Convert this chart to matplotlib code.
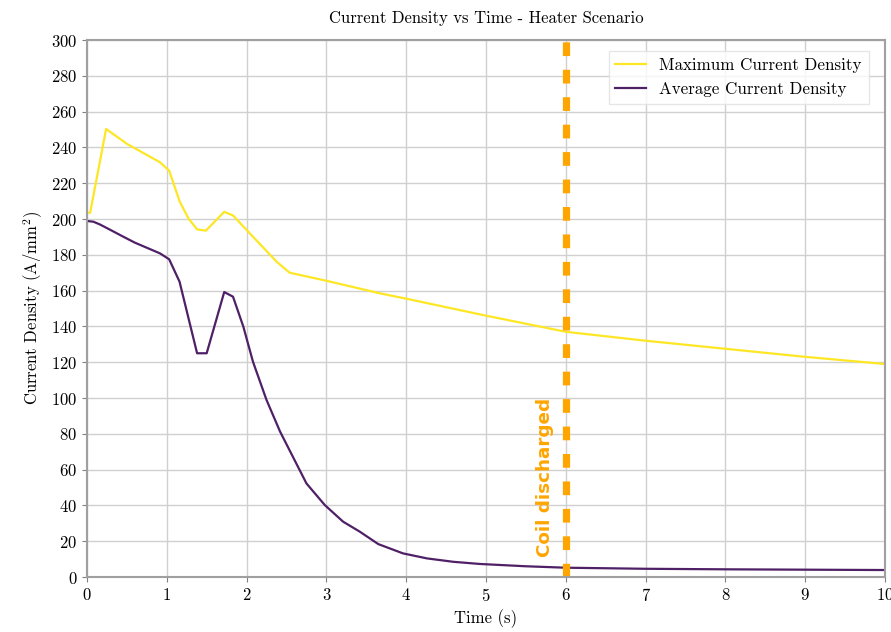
import matplotlib
matplotlib.use("Agg")
import matplotlib.pyplot as plt

plt.rcParams['font.family'] = 'serif'
plt.rcParams['font.serif'] = ['cmr10']
plt.rcParams['mathtext.fontset'] = 'cm'
plt.rcParams['axes.unicode_minus'] = False
plt.rcParams['axes.formatter.use_mathtext'] = True

# maximum current density
t_max = [0.0, 0.04, 0.24, 0.5, 0.915, 1.03, 1.16, 1.27, 1.38, 1.49, 1.72, 1.83,
         2.04, 2.38, 2.54, 3.0, 3.67, 4.0, 5.0, 6.0, 7.0, 8.0, 9.0, 10.0]
j_max = [203.5, 203.5, 250.3, 242.0, 231.7, 227.0, 210.0, 200.4, 194.2, 193.5, 204.0, 202.0,
         192.0, 176.0, 170.0, 165.5, 158.5, 155.5, 146.0, 137.0, 132.0, 127.5, 123.0, 119.0]

# average current density
t_avg = [0.0, 0.08, 0.16, 0.29, 0.46, 0.6, 0.915, 1.03, 1.16, 1.38, 1.5, 1.72, 1.83,
         1.96, 2.08, 2.25, 2.42, 2.58, 2.75, 2.98, 3.21, 3.42, 3.65, 3.96, 4.26, 4.59,
         4.92, 5.5, 6.0, 7.0, 8.0, 9.0, 10.0]
j_avg = [198.9, 198.5, 197.0, 194.0, 190.0, 186.8, 180.8, 177.5, 165.0, 125.0, 125.0, 159.2, 156.6,
         139.8, 120.3, 98.9, 81.2, 67.2, 52.3, 40.2, 30.9, 25.3, 18.4, 13.2, 10.4, 8.5,
         7.3, 6.0, 5.2, 4.6, 4.3, 4.1, 3.9]

t_discharge = 6.0

fig = plt.figure(figsize=(8.91, 6.32), dpi=100)
ax = fig.add_axes([0.0976, 0.087, 0.8957, 0.8497])

ax.plot(t_max, j_max, color='#FDE725', lw=1.6, label='Maximum Current Density')
ax.plot(t_avg, j_avg, color='#4f2066', lw=1.6, label='Average Current Density')

ax.plot([t_discharge, t_discharge], [0, 300], color='#FFA500', lw=5.2, dashes=(1.9, 1.9))
ax.text(t_discharge - 0.26, 11, 'Coil discharged', rotation=90, color='#FFA500',
        fontsize=13.2, fontweight='bold', family='DejaVu Sans', ha='center', va='bottom')

ax.set_xlim(0, 10)
ax.set_ylim(0, 300)
ax.set_xticks(range(0, 11))
ax.set_yticks(range(0, 301, 20))
ax.grid(True, color='#d0d0d0', lw=1)
ax.set_axisbelow(True)
for s in ax.spines.values():
    s.set_color('#a0a0a0')
    s.set_linewidth(1.5)
ax.tick_params(labelsize=12, color='#808080')

ax.set_title('Current Density vs Time - Heater Scenario', fontsize=12, pad=12)
ax.set_xlabel('Time (s)', fontsize=12)
ax.set_ylabel('Current Density (A/mm$^2$)', fontsize=12)
ax.legend(loc='upper right', bbox_to_anchor=(0.99, 0.995), fontsize=12.2, fancybox=False,
          framealpha=0.8, edgecolor='#e0e0e0', borderaxespad=0.5, handlelength=1.8)

fig.savefig('out.png', dpi=100)
